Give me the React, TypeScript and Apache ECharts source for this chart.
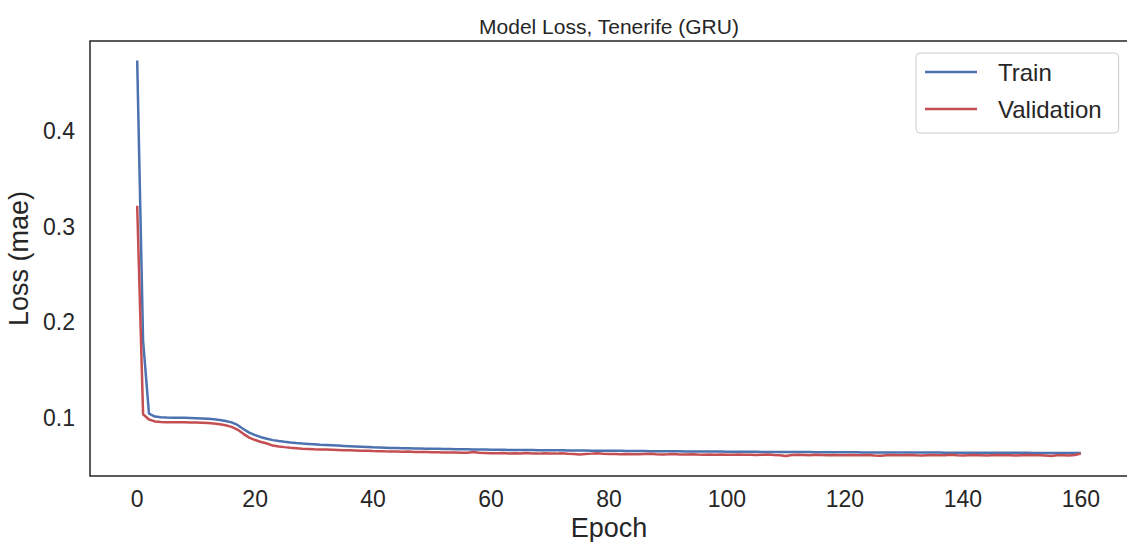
import React, { useEffect, useRef } from "react";
import * as echarts from "echarts";

const xTicks = [0, 20, 40, 60, 80, 100, 120, 140, 160];
const yTicks = [0.1, 0.2, 0.3, 0.4];
const seriesNames = ["Train", "Validation"];

const trainLoss = [
  0.474, 0.181, 0.1045, 0.1015, 0.1008, 0.1005, 0.1004, 0.1003, 0.1002, 0.1001,
  0.0999, 0.0996, 0.0992, 0.0987, 0.098, 0.097, 0.0955, 0.0928, 0.0885, 0.0848,
  0.0822, 0.08, 0.0783, 0.0769, 0.0759, 0.0751, 0.0744, 0.0738, 0.0733, 0.0729,
  0.0725, 0.0721, 0.0718, 0.0715, 0.0712, 0.0709, 0.0706, 0.0703, 0.07, 0.0697,
  0.0694, 0.0692, 0.069, 0.0688, 0.0686, 0.0684, 0.0683, 0.0682, 0.0681, 0.068,
  0.0679, 0.0678, 0.0677, 0.0676, 0.0675, 0.0674, 0.0673, 0.0672, 0.0671, 0.067,
  0.0669, 0.0668, 0.0668, 0.0667, 0.0667, 0.0666, 0.0665, 0.0665, 0.0664, 0.0664,
  0.0663, 0.0662, 0.0662, 0.0661, 0.0661, 0.066, 0.066, 0.0659, 0.0659, 0.0658,
  0.0658, 0.0657, 0.0657, 0.0656, 0.0656, 0.0655, 0.0655, 0.0654, 0.0654, 0.0653,
  0.0653, 0.0652, 0.0652, 0.0651, 0.0651, 0.0651, 0.065, 0.065, 0.0649, 0.0649,
  0.0648, 0.0648, 0.0648, 0.0647, 0.0647, 0.0647, 0.0646, 0.0646, 0.0646, 0.0645,
  0.0645, 0.0645, 0.0644, 0.0644, 0.0644, 0.0643, 0.0643, 0.0643, 0.0643, 0.0642,
  0.0642, 0.0642, 0.0642, 0.0641, 0.0641, 0.0641, 0.0641, 0.064, 0.064, 0.064,
  0.064, 0.064, 0.0639, 0.0639, 0.0639, 0.0639, 0.0639, 0.0638, 0.0638, 0.0638,
  0.0638, 0.0638, 0.0637, 0.0637, 0.0637, 0.0637, 0.0637, 0.0636, 0.0636, 0.0636,
  0.0636, 0.0636, 0.0635, 0.0635, 0.0635, 0.0635, 0.0635, 0.0634, 0.0634, 0.0634,
  0.0634,
];

const valLoss = [
  0.322, 0.104, 0.0985, 0.0965, 0.0958, 0.0956, 0.0955, 0.0955, 0.0955, 0.0954,
  0.0953, 0.0951, 0.0948, 0.0943, 0.0936, 0.0925, 0.0908, 0.088, 0.0835, 0.0795,
  0.077, 0.075, 0.0734, 0.0712, 0.0703, 0.0696, 0.069, 0.0685, 0.068, 0.0677,
  0.0674, 0.0672, 0.067, 0.0668, 0.0666, 0.0664, 0.0662, 0.066, 0.0658, 0.0657,
  0.0655, 0.0654, 0.0652, 0.0651, 0.065, 0.0648, 0.0649, 0.0646, 0.0645, 0.0644,
  0.0643, 0.0642, 0.0641, 0.064, 0.0639, 0.0638, 0.0637, 0.0644, 0.0636, 0.0634,
  0.0632, 0.0631, 0.0634, 0.063, 0.0632, 0.0629, 0.0635, 0.063, 0.0628, 0.0631,
  0.0629, 0.0628, 0.0631, 0.0627, 0.0624, 0.062, 0.0624, 0.0628, 0.0633, 0.0626,
  0.0624, 0.0623, 0.0622, 0.0625, 0.0622, 0.0621, 0.0624, 0.0627, 0.0622, 0.062,
  0.0621, 0.0623, 0.062, 0.0619, 0.0622, 0.0618, 0.0617, 0.062, 0.0617, 0.0619,
  0.0616, 0.0616, 0.0619, 0.0615, 0.0617, 0.0614, 0.0616, 0.0618, 0.0614, 0.0612,
  0.0604, 0.0613, 0.0616, 0.0614, 0.0612, 0.0615, 0.0613, 0.0611, 0.0614, 0.0612,
  0.0611, 0.0614, 0.0612, 0.061, 0.0613, 0.0609, 0.0606, 0.0611, 0.0613, 0.061,
  0.0612, 0.0614, 0.0611, 0.0609, 0.0612, 0.0614, 0.061, 0.0612, 0.0615, 0.0611,
  0.0609, 0.0612, 0.0614, 0.0611, 0.0608, 0.0611, 0.0613, 0.061, 0.0612, 0.0609,
  0.0611, 0.0613, 0.061, 0.0612, 0.0608, 0.0604, 0.061, 0.0612, 0.0609, 0.0613,
  0.0628,
];

const FONT = "'Liberation Sans', Arial, sans-serif";
const TXT = "#262626";

export default function App() {
  const ref = useRef<HTMLDivElement>(null);
  useEffect(() => {
    if (!ref.current) return;
    const chart = echarts.init(ref.current, null, { renderer: "svg" });
    const toPairs = (arr: number[]) => arr.map((v, i) => [i, v]);
    chart.setOption({
      animation: false,
      backgroundColor: "#ffffff",
      textStyle: { fontFamily: FONT },
      graphic: [
        {
          type: "text",
          x: 609,
          y: 26,
          style: {
            text: "Model Loss, Tenerife (GRU)",
            fontFamily: FONT,
            fontSize: 21,
            fill: TXT,
            textAlign: "center",
            textVerticalAlign: "middle",
          },
        },
      ],
      grid: {
        left: 90,
        top: 41,
        width: 1038,
        height: 435,
        containLabel: false,
        outerBoundsMode: "none",
        show: true,
        borderColor: TXT,
        borderWidth: 1.5,
        backgroundColor: "transparent",
      },
      legend: {
        orient: "vertical",
        left: 916,
        top: 53,
        data: seriesNames,
        icon: "rect",
        itemWidth: 52,
        itemHeight: 2.5,
        itemGap: 13,
        padding: [7, 17, 12, 9],
        backgroundColor: "#ffffff",
        borderColor: "#cccccc",
        borderWidth: 1,
        borderRadius: 4,
        textStyle: {
          fontFamily: FONT,
          fontSize: 24,
          color: TXT,
          padding: [0, 0, 0, 16],
        },
      },
      xAxis: {
        type: "value",
        min: -8,
        max: 168,
        name: "Epoch",
        nameLocation: "middle",
        nameGap: 37,
        nameTextStyle: { fontFamily: FONT, fontSize: 27, color: TXT },
        axisLine: { show: false },
        axisTick: { show: false },
        splitLine: { show: false },
        axisLabel: {
          customValues: xTicks,
          fontFamily: FONT,
          fontSize: 23,
          color: TXT,
          margin: 11,
        },
      },
      yAxis: {
        type: "value",
        min: 0.0394,
        max: 0.4943,
        name: "Loss (mae)",
        nameLocation: "middle",
        nameGap: 50,
        nameRotate: 90,
        nameTextStyle: { fontFamily: FONT, fontSize: 27, color: TXT },
        axisLine: { show: false },
        axisTick: { show: false },
        splitLine: { show: false },
        axisLabel: {
          customValues: yTicks,
          formatter: (v: number) => v.toFixed(1),
          fontFamily: FONT,
          fontSize: 23,
          color: TXT,
          margin: 15,
        },
      },
      series: [
        {
          name: seriesNames[0],
          type: "line",
          data: toPairs(trainLoss),
          showSymbol: false,
          symbol: "none",
          lineStyle: { color: "#4C72B0", width: 2.5 },
          itemStyle: { color: "#4C72B0" },
          z: 2,
        },
        {
          name: seriesNames[1],
          type: "line",
          data: toPairs(valLoss),
          showSymbol: false,
          symbol: "none",
          lineStyle: { color: "#C44E52", width: 2.5 },
          itemStyle: { color: "#C44E52" },
          z: 3,
        },
      ],
    });
    return () => chart.dispose();
  }, []);
  return (
    <div
      ref={ref}
      style={{ position: "fixed", left: 0, top: 0, width: 1127, height: 542 }}
    />
  );
}
